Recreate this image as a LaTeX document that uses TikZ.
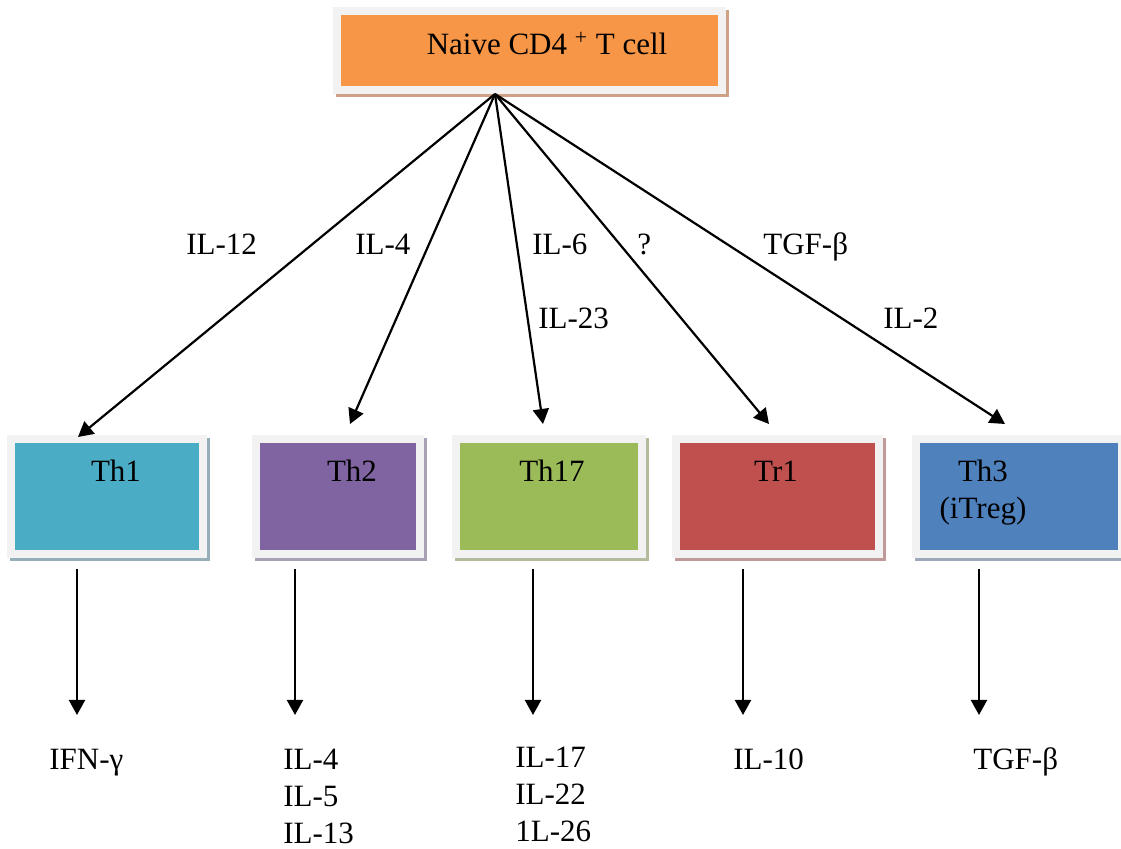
\documentclass[tikz,border=0pt]{standalone}
\usepackage{fontspec}
\setmainfont{Liberation Serif}
\usepackage{tikz}
\usetikzlibrary{arrows.meta,shadows}
\definecolor{framegray}{HTML}{F2F2F2}
\definecolor{naivecol}{HTML}{F79646}
\definecolor{naivesh}{HTML}{CFA184}
\definecolor{thonecol}{HTML}{4BACC6}
\definecolor{thonesh}{HTML}{95AEB9}
\definecolor{thtwocol}{HTML}{8064A2}
\definecolor{thtwosh}{HTML}{A8A1B5}
\definecolor{thsevcol}{HTML}{9BBB59}
\definecolor{thsevsh}{HTML}{B3BC9C}
\definecolor{trcol}{HTML}{C0504D}
\definecolor{trsh}{HTML}{C09A9B}
\definecolor{ththreecol}{HTML}{4F81BD}
\definecolor{ththreesh}{HTML}{9DA9BB}

\begin{document}
\begin{tikzpicture}[x=0.5pt, y=-0.5pt,
  every node/.style={font=\fontsize{15.5pt}{18.5pt}\selectfont, inner sep=0pt},
  cell/.style={draw=framegray, line width=4pt, minimum height=57.5pt,
               general shadow={fill=#1, draw=#1, opacity=1,
                               shadow xshift=1.5pt, shadow yshift=-1.75pt}},
  celltext/.style={anchor=base, align=center},
  cyto/.style={anchor=base west, align=left},
  arr/.style={-{Triangle[length=7.5pt,width=8pt]}, line width=1.1pt}]
\useasboundingbox (0,0) rectangle (1121,849);
\node[cell=naivesh, fill=naivecol, minimum width=192.5pt, minimum height=39.5pt] (naive) at (529.5,50.5) {};
\node[celltext] (naivet) at (547,55) {Naive CD4 \textsuperscript{+} T cell};
\node[cell=thonesh, fill=thonecol, minimum width=96pt] (th1) at (107,496.5) {};
\node[cell=thtwosh, fill=thtwocol, minimum width=82pt] (th2) at (338,496.5) {};
\node[cell=thsevsh, fill=thsevcol, minimum width=93pt] (th17) at (549,496.5) {};
\node[cell=trsh, fill=trcol, minimum width=101.5pt] (tr1) at (777.5,496.5) {};
\node[cell=ththreesh, fill=ththreecol, minimum width=103pt] (th3) at (1019,496.5) {};
\node[celltext] (th1t) at (116,482) {Th1};
\node[celltext] (th2t) at (352,482) {Th2};
\node[celltext] (th17t) at (552,482) {Th17};
\node[celltext] (tr1t) at (776,482) {Tr1};
\node[celltext] (th3t) at (983,519) {Th3\\(iTreg)};
\coordinate (apex) at (naive.south -| 495,0);
\coordinate (in1) at (78,437);
\coordinate (in2) at (350,424);
\coordinate (in17) at (543,424);
\coordinate (inr) at (769,424);
\coordinate (in3) at (1005,424);
\draw[arr] (apex) -- (in1);
\draw[arr] (apex) -- (in2);
\draw[arr] (apex) -- (in17);
\draw[arr] (apex) -- (inr);
\draw[arr] (apex) -- (in3);
\node[cyto] (il12) at (186,255) {IL-12};
\node[cyto] (il4) at (355,255) {IL-4};
\node[cyto] (il6) at (532,255) {IL-6};
\node[cyto] (il23) at (538,329) {IL-23};
\node[cyto] (unk) at (637,255) {?};
\node[cyto] (tgfin) at (763,255) {TGF-β};
\node[cyto] (il2) at (883,329) {IL-2};
\coordinate (out1) at (77,715);
\coordinate (out2) at (295,715);
\coordinate (out17) at (533,715);
\coordinate (outr) at (743,715);
\coordinate (out3) at (979,715);
\draw[arr, shorten <=5.5pt] (th1.south -| out1) -- (out1);
\draw[arr, shorten <=5.5pt] (th2.south -| out2) -- (out2);
\draw[arr, shorten <=5.5pt] (th17.south -| out17) -- (out17);
\draw[arr, shorten <=5.5pt] (tr1.south -| outr) -- (outr);
\draw[arr, shorten <=5.5pt] (th3.south -| out3) -- (out3);
\node[cyto] (ifn) at (49,770) {IFN-γ};
\node[cyto] (thtwoout) at (283,844) {IL-4\\IL-5\\IL-13};
\node[cyto] (thsevout) at (515,842) {IL-17\\IL-22\\1L-26};
\node[cyto] (il10) at (733,770) {IL-10};
\node[cyto] (tgfout) at (973,770) {TGF-β};
\end{tikzpicture}
\end{document}
